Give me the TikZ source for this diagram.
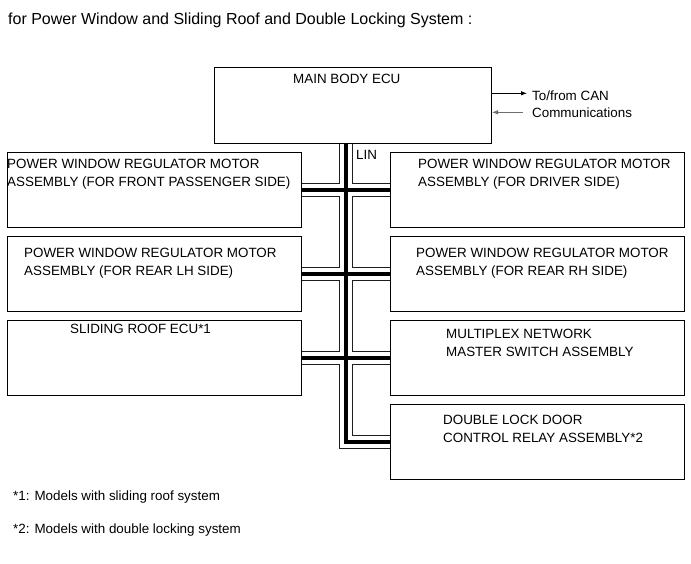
\documentclass[tikz,border=0pt]{standalone}
\usepackage{fontspec}
\setmainfont{Liberation Sans}
\usetikzlibrary{arrows.meta,positioning,calc}
\definecolor{wireGray}{HTML}{1E1E1E}
\definecolor{canGray}{HTML}{6E6E6E}
\tikzset{
  unitBox/.style={
    draw=black,
    line width=1pt,
    inner sep=0pt,
    minimum width=294pt,
    minimum height=75pt
  },
  unitText/.style={
    anchor=north west,
    inner sep=0pt,
    align=left,
    font=\fontsize{13.4}{18}\selectfont
  },
  noteText/.style={
    anchor=west,
    inner sep=0pt,
    font=\fontsize{13.4}{16}\selectfont
  },
  busOuter/.style={line width=14.5pt, draw=wireGray, line join=miter},
  busGap/.style={line width=12pt, draw=white, line join=miter},
  busCore/.style={line width=4pt, draw=black, line join=miter},
  canArrow/.style={
    -{Latex[length=6pt,width=4.5pt]},
    line width=0.8pt
  }
}

\begin{document}
\begin{tikzpicture}[x=1pt,y=-1pt]
  \useasboundingbox (0,0) rectangle (691,564);

  \node[anchor=west, inner sep=0pt, font=\fontsize{16}{19}\selectfont] (title) at (8,20)
    {for Power Window and Sliding Roof and Double Locking System :};

  % ECU and units
  \node[unitBox, minimum width=277pt, minimum height=76pt, anchor=north west] (mainEcu) at (214,67) {};
  \node[unitBox, anchor=north west] (frontPass) at (7,152) {};
  \node[unitBox, below=8pt of frontPass] (rearLh) {};
  \node[unitBox, below=8pt of rearLh] (roofEcu) {};
  \node[unitBox, anchor=north west] (driver) at (390,152) {};
  \node[unitBox, below=8pt of driver] (rearRh) {};
  \node[unitBox, below=8pt of rearRh] (masterSw) {};
  \node[unitBox, below=8pt of masterSw] (doubleLock) {};

  \node[unitText] (mainEcuText) at ($(mainEcu.north west)+(79,6.5)$) {MAIN BODY ECU};
  \node[unitText] (frontPassText) at ($(frontPass.north west)+(0,6.5)$)
    {POWER WINDOW REGULATOR MOTOR\\ASSEMBLY (FOR FRONT PASSENGER SIDE)};
  \node[unitText] (rearLhText) at ($(rearLh.north west)+(17,12)$)
    {POWER WINDOW REGULATOR MOTOR\\ASSEMBLY (FOR REAR LH SIDE)};
  \node[unitText] (roofEcuText) at ($(roofEcu.north west)+(63,4)$) {SLIDING ROOF ECU*1};
  \node[unitText] (driverText) at ($(driver.north west)+(28,6.5)$)
    {POWER WINDOW REGULATOR MOTOR\\ASSEMBLY (FOR DRIVER SIDE)};
  \node[unitText] (rearRhText) at ($(rearRh.north west)+(26,12)$)
    {POWER WINDOW REGULATOR MOTOR\\ASSEMBLY (FOR REAR RH SIDE)};
  \node[unitText] (masterSwText) at ($(masterSw.north west)+(56,9)$)
    {MULTIPLEX NETWORK\\MASTER SWITCH ASSEMBLY};
  \node[unitText] (doubleLockText) at ($(doubleLock.north west)+(53,11)$)
    {DOUBLE LOCK DOOR\\CONTROL RELAY ASSEMBLY*2};

  % LIN bus
  \coordinate (busTop) at ($(mainEcu.south west)+(132,0)$);
  \foreach \layer in {busOuter,busGap,busCore} {
    \draw[\layer] (busTop) -- (busTop |- doubleLock.west) -- (doubleLock.west);
    \draw[\layer] (frontPass.east) -- (driver.west);
    \draw[\layer] (rearLh.east) -- (rearRh.west);
    \draw[\layer] (roofEcu.east) -- (masterSw.west);
  }
  \node[unitText] (linText) at ($(busTop)+(10,6.5)$) {LIN};

  % CAN
  \coordinate (canTx) at (527,93.3);
  \coordinate (canRx) at (523,112.3);
  \draw[canArrow] (mainEcu.east |- canTx) -- (canTx);
  \draw[canArrow, draw=canGray, fill=black] (canRx) -- (mainEcu.east |- canRx);
  \node[anchor=west, inner sep=0pt, align=left, font=\fontsize{13.4}{17}\selectfont]
    (canText) at (532,104) {To/from CAN\\Communications};

  % notes
  \node[noteText] (noteOne) at (13,497.5) {*1: Models with sliding roof system};
  \node[noteText] (noteTwo) at (13,530.5) {*2: Models with double locking system};
\end{tikzpicture}
\end{document}
